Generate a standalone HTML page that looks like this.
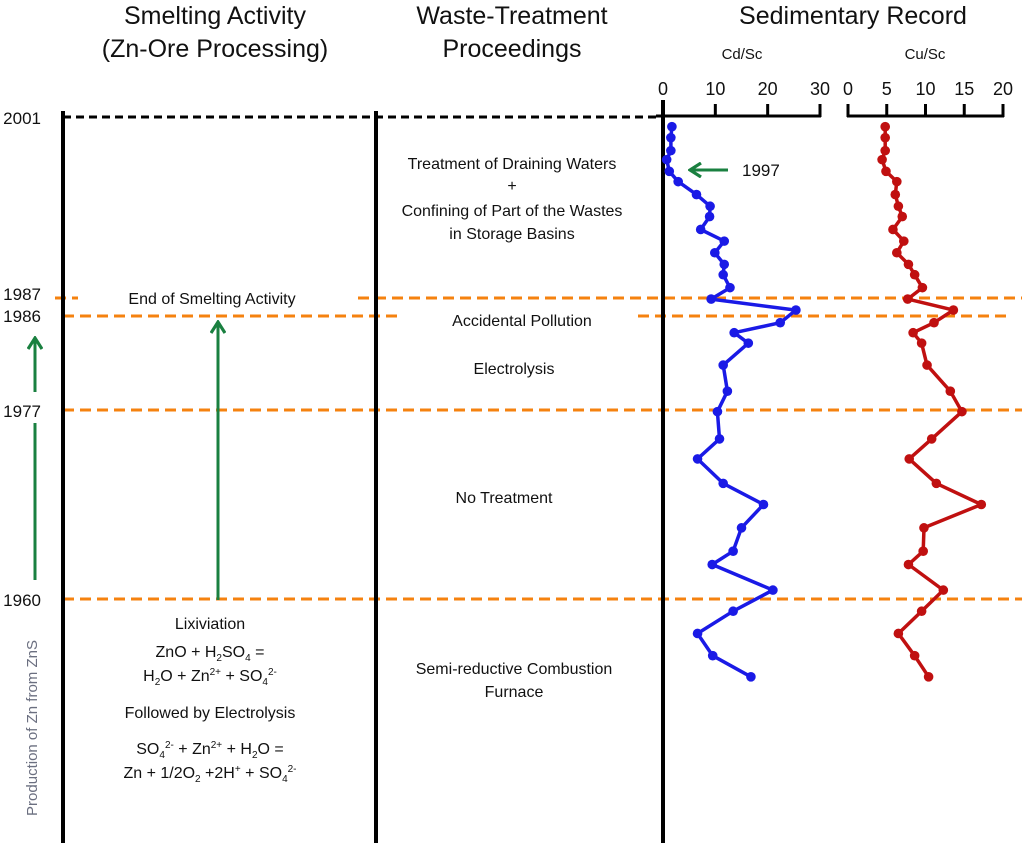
<!DOCTYPE html>
<html><head><meta charset="utf-8"><style>
body{margin:0;background:#fff}
svg{display:block;font-family:"Liberation Sans",sans-serif}
</style></head><body>
<svg id="chart" width="1024" height="851" viewBox="0 0 1024 851" xmlns="http://www.w3.org/2000/svg">
<defs>
<marker id="ga" markerWidth="14" markerHeight="16" refX="12" refY="8" orient="auto" markerUnits="userSpaceOnUse"><path d="M1,1 L12,8 L1,15" fill="none" stroke="#1a8040" stroke-width="3.2"/></marker>
</defs>
<g font-size="25" fill="#111" text-anchor="middle">
<text x="215" y="24">Smelting Activity</text>
<text x="215" y="57">(Zn-Ore Processing)</text>
<text x="512" y="24">Waste-Treatment</text>
<text x="512" y="57">Proceedings</text>
<text x="853" y="24">Sedimentary Record</text>
</g>
<g font-size="15" fill="#111" text-anchor="middle">
<text x="742" y="59">Cd/Sc</text>
<text x="925" y="59">Cu/Sc</text>
</g>
<line x1="63" y1="117" x2="663" y2="117" stroke="#000" stroke-width="3" stroke-dasharray="8,5"/>
<g stroke="#f5820f" stroke-width="3" stroke-dasharray="11,6">
<line x1="55" y1="298" x2="78" y2="298"/><line x1="358" y1="298" x2="1022" y2="298"/>
<line x1="63" y1="316" x2="400" y2="316"/><line x1="638" y1="316" x2="1010" y2="316"/>
<line x1="63" y1="410" x2="1022" y2="410"/>
<line x1="63" y1="599" x2="1022" y2="599"/>
</g>
<g stroke="#000" stroke-width="4">
<line x1="63" y1="111" x2="63" y2="843"/><line x1="376" y1="111" x2="376" y2="843"/><line x1="663" y1="100" x2="663" y2="843"/>
</g>
<g font-size="17" fill="#111" text-anchor="end">
<text x="41" y="124">2001</text><text x="41" y="300">1987</text><text x="41" y="322">1986</text>
<text x="41" y="417">1977</text><text x="41" y="606">1960</text>
</g>
<g stroke="#1a8040" stroke-width="3" fill="none">
<line x1="35" y1="392" x2="35" y2="338" marker-end="url(#ga)"/>
<line x1="35" y1="580" x2="35" y2="423"/>
<line x1="218" y1="600" x2="218" y2="322" marker-end="url(#ga)"/>
<line x1="728" y1="170" x2="690" y2="170" marker-end="url(#ga)"/>
</g>
<text x="742" y="176" font-size="17" fill="#111">1997</text>
<text transform="translate(37,728) rotate(-90)" font-size="15" fill="#6b6f80" text-anchor="middle">Production of Zn from ZnS</text>
<g font-size="16" fill="#111" text-anchor="middle">
<text x="212" y="304">End of Smelting Activity</text>
<text x="210" y="629">Lixiviation</text>
<text x="210" y="657">ZnO + H<tspan font-size="10" dy="4">2</tspan><tspan dy="-4">SO</tspan><tspan font-size="10" dy="4">4</tspan><tspan dy="-4"> =</tspan></text>
<text x="210" y="681">H<tspan font-size="10" dy="4">2</tspan><tspan dy="-4">O + Zn</tspan><tspan font-size="10" dy="-6">2+</tspan><tspan dy="6"> + SO</tspan><tspan font-size="10" dy="4">4</tspan><tspan font-size="10" dy="-10">2-</tspan></text>
<text x="210" y="718">Followed by Electrolysis</text>
<text x="210" y="754">SO<tspan font-size="10" dy="4">4</tspan><tspan font-size="10" dy="-10">2-</tspan><tspan dy="6"> + Zn</tspan><tspan font-size="10" dy="-6">2+</tspan><tspan dy="6"> + H</tspan><tspan font-size="10" dy="4">2</tspan><tspan dy="-4">O =</tspan></text>
<text x="210" y="778">Zn + 1/2O<tspan font-size="10" dy="4">2</tspan><tspan dy="-4"> +2H</tspan><tspan font-size="10" dy="-6">+</tspan><tspan dy="6"> + SO</tspan><tspan font-size="10" dy="4">4</tspan><tspan font-size="10" dy="-10">2-</tspan></text>
<text x="512" y="169">Treatment of Draining Waters</text>
<text x="512" y="191">+</text>
<text x="512" y="216">Confining of Part of the Wastes</text>
<text x="512" y="239">in Storage Basins</text>
<text x="522" y="326">Accidental Pollution</text>
<text x="514" y="374">Electrolysis</text>
<text x="504" y="503">No Treatment</text>
<text x="514" y="674">Semi-reductive Combustion</text>
<text x="514" y="697">Furnace</text>
</g>
<g id="axes"></g>
<g id="series"></g>
</svg>
<script>
const years=[2000.25,1999.4,1998.4,1997.7,1996.8,1996.0,1995.0,1994.1,1993.3,1992.3,1991.4,1990.5,1989.6,1988.8,1987.8,1986.94,1986.33,1985.36,1984.4,1983.4,1981.3,1978.8,1976.85,1974.4,1972.6,1970.4,1968.5,1966.4,1964.3,1963.1,1960.8,1958.9,1956.9,1954.9,1953.0];
const cdValues=[1.7,1.5,1.5,0.7,1.2,2.9,6.4,9.0,8.9,7.2,11.7,9.9,11.7,11.5,12.8,9.2,25.4,22.4,13.6,16.3,11.5,12.3,10.4,10.8,6.6,11.5,19.2,15.0,13.4,9.4,21.0,13.4,6.6,9.5,16.8];
const cuValues=[4.8,4.8,4.8,4.4,4.9,6.3,6.1,6.5,7.0,5.8,7.2,6.3,7.8,8.6,9.6,7.7,13.6,11.1,8.4,9.5,10.2,13.2,14.7,10.8,7.9,11.4,17.2,9.8,9.7,7.8,12.3,9.5,6.5,8.6,10.4];
const cdTicks=[0,10,20,30];
const cuTicks=[0,5,10,15,20];
const yearTicks=[2001,1987,1986,1977,1960];
const NS="http://www.w3.org/2000/svg";
const yearPix=[117,298,316,410,599];
function yScale(yr){
  for(let i=0;i<yearTicks.length-1;i++){
    const a=yearTicks[i],b=yearTicks[i+1];
    if(yr<=a&&yr>=b) return yearPix[i]+(a-yr)/(a-b)*(yearPix[i+1]-yearPix[i]);
  }
  const n=yearTicks.length-1;
  const s=(yearPix[n]-yearPix[n-1])/(yearTicks[n-1]-yearTicks[n]);
  return yr>yearTicks[0]?yearPix[0]-(yr-yearTicks[0])*s:yearPix[n]+(yearTicks[n]-yr)*s;
}
const cdX=v=>663+v*(820-663)/30;
const cuX=v=>848+v*(1003-848)/20;
function mk(tag,attrs,parent){const e=document.createElementNS(NS,tag);for(const k in attrs)e.setAttribute(k,attrs[k]);parent.appendChild(e);return e;}
const axes=document.getElementById('axes');
function drawAxis(ticks,sc,name){
  const g=mk('g',{},axes);
  
  
  mk('line',{x1:sc(ticks[0])-1,y1:116,x2:sc(ticks[ticks.length-1])+1,y2:116,stroke:'#000','stroke-width':3},g);
  ticks.forEach(t=>{
    mk('line',{x1:sc(t),y1:104,x2:sc(t),y2:117,stroke:'#000','stroke-width':3},g);
    const tx=mk('text',{x:sc(t),y:95,'font-size':18,'text-anchor':'middle',fill:'#111'},g);
    tx.textContent=t;
  });
}
drawAxis(cdTicks,cdX,'cd-axis');
drawAxis(cuTicks,cuX,'cu-axis');
mk('line',{x1:656,y1:116,x2:664,y2:116,stroke:'#000','stroke-width':3},axes);
const series=document.getElementById('series');
function drawSeries(vals,sc,color,name){
  const g=mk('g',{},series);
  
  
  const pts=vals.map((v,i)=>sc(v).toFixed(1)+','+yScale(years[i]).toFixed(1)).join(' ');
  const pl=mk('polyline',{points:pts,fill:'none',stroke:color,'stroke-width':3.5,'stroke-linejoin':'round'},g);
  
  
  vals.forEach((v,i)=>{
    const c=mk('circle',{cx:sc(v),cy:yScale(years[i]),r:4.8,fill:color},g);
    
    
  });
}
drawSeries(cdValues,cdX,'#1a1ae6','cd-series');
drawSeries(cuValues,cuX,'#c01010','cu-series');
</script>
</body></html>
